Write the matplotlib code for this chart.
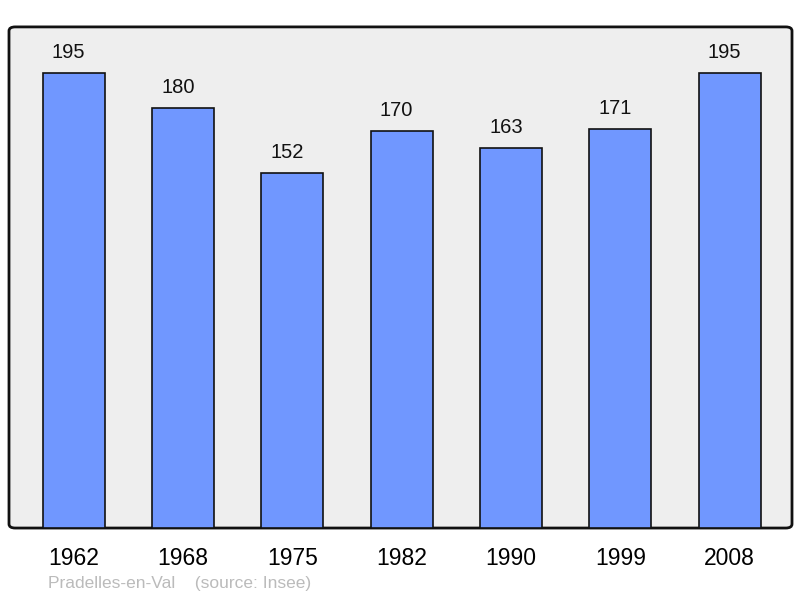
import matplotlib
matplotlib.use("Agg")
import matplotlib.pyplot as plt
from matplotlib.patches import FancyBboxPatch

years = ['1962', '1968', '1975', '1982', '1990', '1999', '2008']
population = [195, 180, 152, 170, 163, 171, 195]

plt.rcParams['font.family'] = ['Liberation Sans', 'DejaVu Sans']

fig = plt.figure(figsize=(8, 5.98), dpi=100)
ax = fig.add_axes([0.01125, 0.117, 0.97875, 0.838])
ax.set_facecolor('none')

# rounded frame behind the bars
frame = FancyBboxPatch((0, 0), 1, 1, boxstyle='round,pad=0,rounding_size=0.008',
                       transform=ax.transAxes, facecolor='#eeeeee',
                       edgecolor='#111111', linewidth=2, zorder=0, clip_on=False)
ax.add_patch(frame)

x = range(len(years))
ax.bar(x, population, width=0.567, color='#7097ff', edgecolor='#111111',
       linewidth=1.2, zorder=2)

for i, v in enumerate(population):
    ax.annotate(str(v), (i, v), xytext=(-5, 11), textcoords='offset pixels',
                ha='center', va='bottom', fontsize=14.5, color='#111111')

ax.set_xlim(-0.59, 6.57)
ax.set_ylim(0, 214.7)
for s in ax.spines.values():
    s.set_visible(False)
ax.set_yticks([])
ax.set_xticks(list(x))
ax.set_xticklabels(years, fontsize=16.5)
ax.tick_params(axis='x', length=0, pad=14)

fig.text(0.06, 0.011, 'Pradelles-en-Val    (source: Insee)', fontsize=12.5,
         color='#bbbbbb', ha='left', va='bottom')

fig.savefig('out.png', dpi=100)
